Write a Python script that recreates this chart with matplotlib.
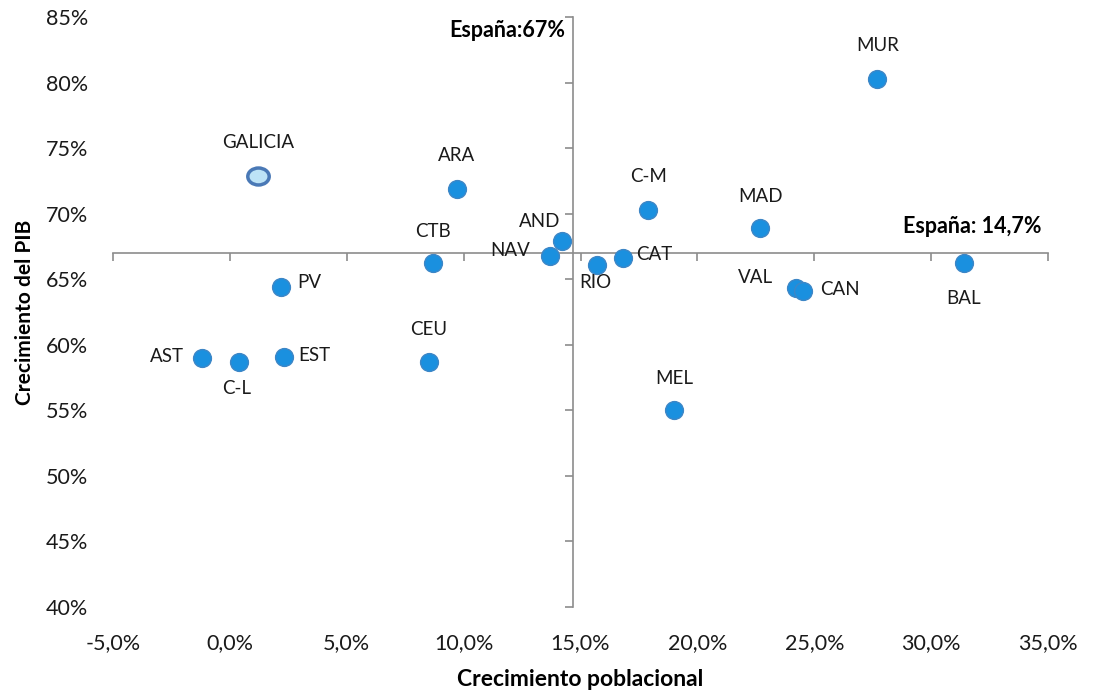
import numpy as np
import matplotlib
matplotlib.use('Agg')
import matplotlib.pyplot as plt
from matplotlib.ticker import MultipleLocator, FuncFormatter
from matplotlib.markers import MarkerStyle
from matplotlib.transforms import Affine2D

plt.rcParams['font.family'] = ['Lato', 'DejaVu Sans']

# datos: crecimiento poblacional (%) y crecimiento del PIB (%)
regiones = ['GALICIA', 'ARA', 'MUR', 'C-M', 'MAD', 'AND', 'NAV', 'CTB', 'RIO', 'CAT',
            'BAL', 'VAL', 'CAN', 'PV', 'CEU', 'AST', 'C-L', 'EST', 'MEL']
crec_pob = [1.2, 9.7, 27.7, 17.9, 22.7, 14.2, 13.7, 8.7, 15.7, 16.8,
            31.4, 24.2, 24.5, 2.2, 8.5, -1.2, 0.4, 2.3, 19.0]
crec_pib = [72.9, 71.9, 80.3, 70.3, 68.9, 67.9, 66.8, 66.2, 66.1, 66.6,
            66.2, 64.3, 64.1, 64.4, 58.7, 59.0, 58.7, 59.1, 55.0]
espana_pob = 14.7
espana_pib = 67.0

# desplazamiento de las etiquetas en puntos (dx, dy)
offsets = {'GALICIA': (0, 24), 'ARA': (0, 24), 'MUR': (0, 24), 'C-M': (0, 24),
           'MAD': (0, 23), 'AND': (-16, 14), 'NAV': (-29, 4), 'CTB': (0, 23),
           'RIO': (-1, -13), 'CAT': (23, 3), 'BAL': (0, -25), 'VAL': (-29, 8),
           'CAN': (27, 1), 'PV': (20, 3), 'CEU': (0, 23), 'AST': (-25, 1),
           'C-L': (-2, -19), 'EST': (22, 1), 'MEL': (0, 23)}

fig = plt.figure(figsize=(10.94, 6.93), dpi=100)
rect = [113 / 1094, 86 / 693, 935 / 1094, 590 / 693]
ax = fig.add_axes(rect)
ax_lab = fig.add_axes(rect, frameon=False)

for a in (ax, ax_lab):
    a.set_xlim(-5, 35)
    a.set_ylim(40, 85)
    a.xaxis.set_major_locator(MultipleLocator(5))
    a.yaxis.set_major_locator(MultipleLocator(5))

# ejes cruzados en la media de España
gris = '#8c8c8c'
for s in ['top', 'right']:
    ax.spines[s].set_visible(False)
ax.spines['left'].set_position(('data', espana_pob))
ax.spines['bottom'].set_position(('data', espana_pib))
ax.spines['left'].set_color(gris)
ax.spines['bottom'].set_color(gris)
ax.spines['left'].set_linewidth(1.2)
ax.spines['bottom'].set_linewidth(1.2)
ax.tick_params(axis='both', direction='out', length=6, width=1.2, color=gris,
               labelleft=False, labelbottom=False)
ax.patch.set_alpha(0)

# eje solo para las etiquetas de los ticks
ax_lab.tick_params(axis='both', length=0, labelsize=15.5, colors='#1a1a1a')
ax_lab.tick_params(axis='x', pad=19)
ax_lab.tick_params(axis='y', pad=18)
ax_lab.xaxis.set_major_formatter(FuncFormatter(lambda v, p: f'{v:.1f}%'.replace('.', ',')))
ax_lab.yaxis.set_major_formatter(FuncFormatter(lambda v, p: f'{v:.0f}%'))
ax_lab.set_xlabel('Crecimiento poblacional', fontsize=16.5, fontweight='bold', labelpad=11)
ax_lab.set_ylabel('Crecimiento del PIB', fontsize=15, fontweight='bold', labelpad=8)

x = np.array(crec_pob)
y = np.array(crec_pib)
ax.scatter(x[1:], y[1:], s=165, color='#1a90df', edgecolor='#3d86c6', linewidth=1, zorder=3)
elipse = MarkerStyle('o', transform=Affine2D().scale(1.2, 0.95))
ax.scatter(x[:1], y[:1], s=165, color='#bde3f6', edgecolor='#4a79b6', linewidth=2.5,
           marker=elipse, zorder=3)

for nombre, xi, yi in zip(regiones, crec_pob, crec_pib):
    ax.annotate(nombre, (xi, yi), xytext=offsets[nombre], textcoords='offset points',
                ha='center', va='center', fontsize=13.5, color='#1a1a1a')

ax.annotate('España:67%', (espana_pob, 85), xytext=(-6, -10), textcoords='offset points',
            ha='right', va='center', fontsize=15.5, fontweight='bold')
ax.annotate('España: 14,7%', (35, espana_pib), xytext=(-5, 19), textcoords='offset points',
            ha='right', va='center', fontsize=15.5, fontweight='bold')

fig.savefig('out.png', dpi=100)
